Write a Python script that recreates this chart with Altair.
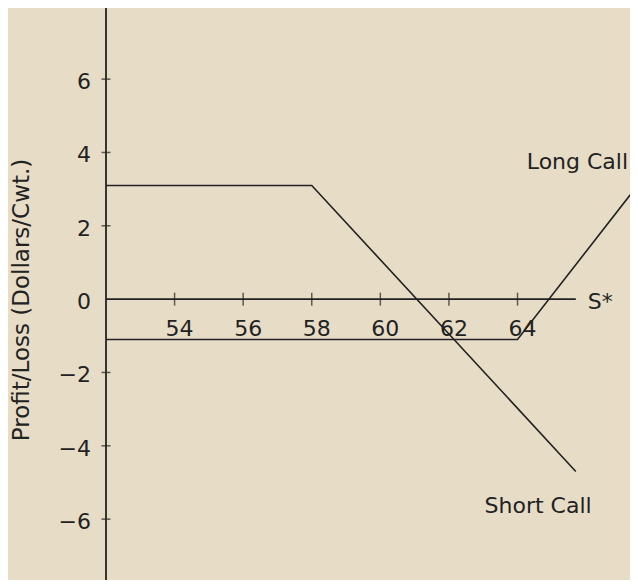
import altair as alt
import pandas as pd

# ---- data ----
short_x = [52, 58, 65.7]
short_y = [3.1, 3.1, -4.7]
long_x = [52, 64, 67.5]
long_y = [-1.1, -1.1, 3.1]

x_ticks = [54, 56, 58, 60, 62, 64]
y_ticks = [6, 4, 2, -2, -4, -6]
y_label_vals = [6, 4, 2, 0, -2, -4, -6]
y_label_text = ["6", "4", "2", "0", "\u22122", "\u22124", "\u22126"]

ann_text = ["Long Call", "Short Call", "S*"]
ann_x = [64.27, 64.6, 66.05]
ann_y = [3.74, -5.65, -0.08]
ann_align = ["left", "center", "left"]

X_MIN, X_MAX = 52, 67.28
Y_MIN, Y_MAX = -7.66, 7.94
X_AXIS_END = 65.7

INK = "#222222"
BG = "#e7ddc7"
FONT = "DejaVu Sans"
FS = 22

xs = alt.Scale(domain=[X_MIN, X_MAX], nice=False, zero=False)
ys = alt.Scale(domain=[Y_MIN, Y_MAX], nice=False, zero=False)

def X(f="x"):
    return alt.X(f, type="quantitative", scale=xs, axis=None)

def Y(f="y"):
    return alt.Y(f, type="quantitative", scale=ys, axis=None)

lines_df = pd.concat([
    pd.DataFrame({"x": short_x, "y": short_y, "s": "Short Call", "o": range(len(short_x))}),
    pd.DataFrame({"x": long_x, "y": long_y, "s": "Long Call", "o": range(len(long_x))}),
])

lines = alt.Chart(lines_df).mark_line(color=INK, strokeWidth=1.6, clip=True).encode(
    x=X(), y=Y(), detail="s:N", order="o:Q"
)

y_axis = alt.Chart(pd.DataFrame({"x": [X_MIN], "y": [Y_MIN], "y2": [Y_MAX]})).mark_rule(
    color=INK, strokeWidth=1.8
).encode(x=X(), y=Y(), y2="y2")

x_axis = alt.Chart(pd.DataFrame({"x": [X_MIN], "x2": [X_AXIS_END], "y": [0]})).mark_rule(
    color=INK, strokeWidth=1.8
).encode(x=X(), x2="x2", y=Y())

x_tick_marks = alt.Chart(pd.DataFrame({"x": x_ticks, "y": [0] * len(x_ticks)})).mark_tick(
    orient="vertical", size=13, thickness=1.5, color=INK
).encode(x=X(), y=Y())

y_tick_marks = alt.Chart(pd.DataFrame({"x": [X_MIN] * len(y_ticks), "y": y_ticks})).mark_tick(
    orient="horizontal", size=9, thickness=1.5, color=INK
).encode(x=X(), y=Y())

x_labels = alt.Chart(pd.DataFrame({"x": x_ticks, "y": [0] * len(x_ticks),
                                   "t": [str(v) for v in x_ticks]})).mark_text(
    font=FONT, fontSize=FS, color=INK, dx=5, dy=30, baseline="middle", align="center"
).encode(x=X(), y=Y(), text="t:N")

y_labels = alt.Chart(pd.DataFrame({"x": [X_MIN] * len(y_label_vals), "y": y_label_vals,
                                   "t": y_label_text})).mark_text(
    font=FONT, fontSize=FS, color=INK, dx=-15, dy=3, baseline="middle", align="right"
).encode(x=X(), y=Y(), text="t:N")

ann_layers = []
for t, ax, ay, al in zip(ann_text, ann_x, ann_y, ann_align):
    ann_layers.append(
        alt.Chart(pd.DataFrame({"x": [ax], "y": [ay], "t": [t]})).mark_text(
            font=FONT, fontSize=FS, color=INK, align=al, baseline="middle"
        ).encode(x=X(), y=Y(), text="t:N")
    )

y_title = alt.Chart(pd.DataFrame({"t": ["Profit/Loss (Dollars/Cwt.)"]})).mark_text(
    font=FONT, fontSize=23, color=INK, angle=270, align="center", baseline="middle"
).encode(x=alt.value(-84), y=alt.value(292), text="t:N")

chart = alt.layer(
    y_axis, x_axis, x_tick_marks, y_tick_marks, lines, x_labels, y_labels, y_title, *ann_layers
).properties(
    width=524,
    height=572,
    background=BG,
    padding={"left": 98, "top": 0, "right": 0, "bottom": 0},
    autosize=alt.AutoSizeParams(type="none"),
).configure_view(stroke=None)

chart.save("out.html", embed_options={"renderer": "svg", "actions": False})
